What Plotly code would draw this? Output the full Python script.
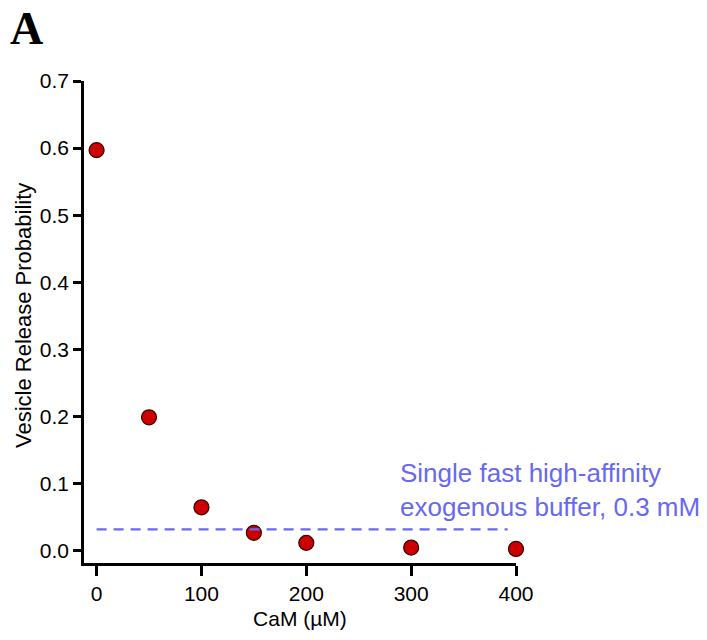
import plotly.graph_objects as go

# CaM concentration (µM) and simulated vesicle release probability
cam_um = [0, 50, 100, 150, 200, 300, 400]
release_prob = [0.597, 0.199, 0.065, 0.027, 0.012, 0.005, 0.003]

# Reference level: single fast high-affinity exogenous buffer (0.3 mM)
buffer_level = 0.032
buffer_span = [0, 392]

x_ticks = [0, 100, 200, 300, 400]
y_ticks = [0.0, 0.1, 0.2, 0.3, 0.4, 0.5, 0.6, 0.7]

FONT = "Liberation Sans, Arial, sans-serif"
BLUE = "#6868f0"

# plot-area geometry in pixels (used to place free text)
W, H = 707, 640
L, R, T, B = 84, 191, 81, 75
PW, PH = W - L - R, H - T - B


def px_to_paper(px, py):
    return (px - L) / PW, 1 - (py - T) / PH


fig = go.Figure()

fig.add_trace(go.Scatter(
    x=cam_um, y=release_prob, mode="markers",
    marker=dict(size=15, color="#cc0000",
                line=dict(color="#3a0000", width=1.2)),
    showlegend=False, cliponaxis=False,
))

fig.add_shape(type="line", xref="x", yref="y",
              x0=buffer_span[0], x1=buffer_span[1],
              y0=buffer_level, y1=buffer_level,
              line=dict(color=BLUE, width=2.2, dash="10px,7px"),
              layer="above")

ax, ay = px_to_paper(398, 492)
fig.add_annotation(
    x=ax, y=ay, xref="paper", yref="paper",
    text="Single fast high-affinity<br>exogenous buffer, 0.3 mM",
    showarrow=False, xanchor="left", yanchor="middle", align="left",
    font=dict(family=FONT, size=26, color=BLUE),
)

ax, ay = px_to_paper(8, 28)
fig.add_annotation(
    x=ax, y=ay, xref="paper", yref="paper",
    text="<b>A</b>", showarrow=False, xanchor="left", yanchor="middle",
    font=dict(family="Liberation Serif, Times New Roman, serif", size=46, color="black"),
)

ax, ay = px_to_paper(23, 317)
fig.add_annotation(
    x=ax, y=ay, xref="paper", yref="paper",
    text="Vesicle Release Probability", textangle=-90,
    showarrow=False, xanchor="center", yanchor="middle",
    font=dict(family=FONT, size=22, color="black"),
)

axis_common = dict(
    showline=True, linecolor="black", linewidth=2.5,
    ticks="outside", tickcolor="black", tickwidth=2.5,
    showgrid=False, zeroline=False,
    tickfont=dict(family=FONT, size=21, color="black"),
    title_font=dict(family=FONT, size=21, color="black"),
)

fig.update_xaxes(
    range=[-12, 400], tickvals=x_ticks, ticklen=10,
    title_text="CaM (µM)", title_standoff=8, **axis_common,
)
fig.update_yaxes(
    range=[-0.018, 0.7], tickvals=y_ticks, tickformat=".1f", ticklen=8,
    **axis_common,
)

fig.update_layout(
    width=W, height=H,
    margin=dict(l=L, r=R, t=T, b=B),
    paper_bgcolor="white", plot_bgcolor="white",
    font=dict(family=FONT, color="black"),
)

fig.write_html("out.html")
